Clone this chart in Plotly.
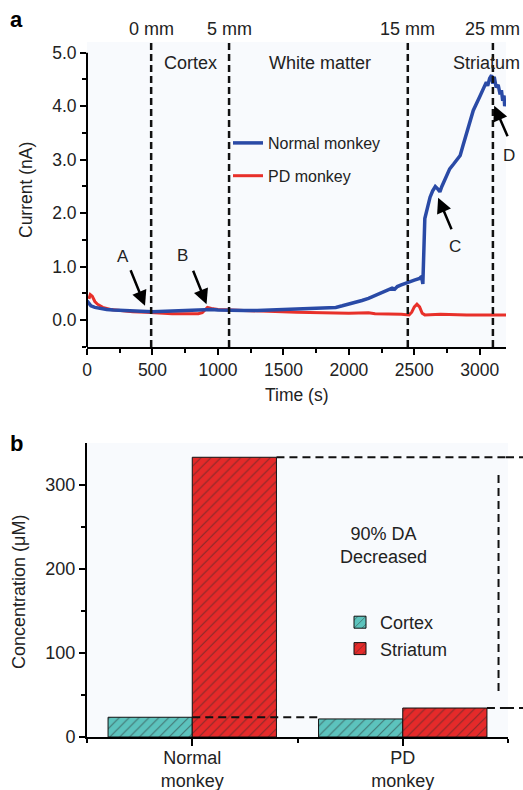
import plotly.graph_objects as go

# ---------------- data: panel a (current vs time) ----------------
t_normal = [0, 10, 30, 60, 100, 150, 200, 300, 400, 500, 600, 700, 800, 900, 950,
            1000, 1100, 1200, 1300, 1400, 1500, 1600, 1700, 1800, 1900, 1950, 2000,
            2050, 2100, 2150, 2200, 2250, 2300, 2330, 2350, 2370, 2400, 2450, 2500,
            2540, 2555, 2565, 2570, 2580, 2600, 2620, 2640, 2660, 2680, 2695, 2710,
            2740, 2770, 2800, 2850, 2870, 2900, 2950, 3000, 3020, 3050, 3060, 3075,
            3090, 3100, 3110, 3125, 3140, 3155, 3165, 3175, 3185, 3190, 3195]
i_normal = [0.36, 0.32, 0.27, 0.24, 0.22, 0.20, 0.19, 0.18, 0.17, 0.16, 0.17, 0.18,
            0.18, 0.19, 0.20, 0.19, 0.18, 0.18, 0.18, 0.19, 0.19, 0.20, 0.21, 0.22,
            0.24, 0.27, 0.30, 0.33, 0.37, 0.41, 0.46, 0.52, 0.56, 0.60, 0.58, 0.63,
            0.66, 0.71, 0.75, 0.78, 0.82, 0.68, 1.40, 1.90, 2.10, 2.30, 2.42, 2.50,
            2.45, 2.40, 2.50, 2.65, 2.83, 2.92, 3.08, 3.25, 3.50, 3.92, 4.18, 4.30,
            4.45, 4.38, 4.52, 4.58, 4.42, 4.55, 4.35, 4.40, 4.22, 4.30, 4.10, 4.20,
            4.00, 4.10]

t_pd = [15, 25, 40, 60, 80, 120, 180, 250, 350, 450, 550, 650, 750, 850, 880, 900,
        920, 950, 1000, 1100, 1200, 1400, 1600, 1800, 2000, 2150, 2200, 2400, 2460,
        2480, 2500, 2520, 2540, 2560, 2580, 2700, 2800, 2900, 3000, 3100, 3200]
i_pd = [0.40, 0.48, 0.45, 0.35, 0.30, 0.24, 0.20, 0.18, 0.16, 0.15, 0.13, 0.12,
        0.12, 0.12, 0.14, 0.20, 0.24, 0.22, 0.20, 0.19, 0.18, 0.17, 0.15, 0.14,
        0.13, 0.14, 0.12, 0.11, 0.10, 0.15, 0.25, 0.30, 0.25, 0.13, 0.10, 0.11,
        0.10, 0.10, 0.10, 0.10, 0.10]

depth_times = [490, 1085, 2450, 3100]
depth_labels = ["0 mm", "5 mm", "15 mm", "25 mm"]
region_labels = ["Cortex", "White matter", "Striatum"]
region_times = [790, 1780, 3050]

# ---------------- data: panel b (concentration) ----------------
groups = ["Normal<br>monkey", "PD<br>monkey"]
cortex_conc = [23.5, 21.5]
striatum_conc = [333, 34.5]

BLUE = "#2a4aa6"
RED = "#e8302a"
TEAL = "#5cc3bd"
BARRED = "#e52a2a"
TXT = "#222222"
FONT = "Liberation Sans, Arial, sans-serif"

W, H = 523, 790
def px(x):
    return x / W
def py(y):
    return 1 - y / H

fig = go.Figure()

fig.add_trace(go.Scatter(x=t_pd, y=i_pd, mode="lines", name="PD monkey",
                         line=dict(color=RED, width=3), legend="legend",
                         legendgroup="pd", legendrank=2, xaxis="x", yaxis="y"))
fig.add_trace(go.Scatter(x=t_normal, y=i_normal, mode="lines", name="Normal monkey",
                         line=dict(color=BLUE, width=3.5), legend="legend",
                         legendgroup="nm", legendrank=1, xaxis="x", yaxis="y"))

pat = dict(shape="/", fgcolor="#2a2a2a", size=7, solidity=0.17)
fig.add_trace(go.Bar(x=[0, 1], y=cortex_conc, name="Cortex", offsetgroup="c",
                     xaxis="x2", yaxis="y2", legend="legend2", legendgroup="c",
                     marker=dict(color=TEAL, line=dict(color="#111", width=1),
                                 pattern=pat)))
fig.add_trace(go.Bar(x=[0, 1], y=striatum_conc, name="Striatum", offsetgroup="s",
                     xaxis="x2", yaxis="y2", legend="legend2", legendgroup="s",
                     marker=dict(color=BARRED, line=dict(color="#111", width=1),
                                 pattern=pat)))

ax_common = dict(showgrid=False, zeroline=False, ticks="outside", tickwidth=2,
                 tickcolor="black", linecolor="black", linewidth=2, automargin=False,
                 tickfont=dict(size=17.5, color=TXT, family=FONT))

shapes = []
annotations = []

# dashed depth markers in panel a
for t in depth_times:
    shapes.append(dict(type="line", xref="x", yref="y", x0=t, x1=t, y0=-0.5, y1=5.2,
                       line=dict(color="#111", width=2.5, dash="7px,4px")))
for t, lab in zip(depth_times, depth_labels):
    annotations.append(dict(x=t, y=py(29), xref="x", yref="paper", text=lab,
                            xanchor="center", yanchor="middle",
                            showarrow=False, font=dict(size=18, color=TXT)))
for t, lab in zip(region_times, region_labels):
    annotations.append(dict(x=t, y=py(63), xref="x", yref="paper", text=lab,
                            xanchor="center", yanchor="middle",
                            showarrow=False, font=dict(size=18, color=TXT)))
# y axis line of panel a (stops at 5.0)
shapes.append(dict(type="line", xref="x domain", yref="y", x0=0, x1=0, y0=-0.5, y1=5.0,
                   line=dict(color="black", width=2)))

# arrows + letters (letter positions in paper pixels)
arrow_pts = [("A", 443, 0.27, -15, -37, 123, 257),
             ("B", 913, 0.30, -14, -35, 182, 256),
             ("C", 2682, 2.29, 14, 33, 455, 246),
             ("D", 3110, 4.01, 14, 32, 509, 156)]
for lab, x, y, axp, ayp, lx, ly in arrow_pts:
    annotations.append(dict(x=x, y=y, xref="x", yref="y", ax=axp, ay=ayp, text="",
                            showarrow=True, arrowhead=2, arrowsize=1.2, arrowwidth=2.5,
                            arrowcolor="black", standoff=0))
    annotations.append(dict(x=px(lx), y=py(ly), xref="paper", yref="paper", text=lab,
                            showarrow=False, xanchor="center", yanchor="middle",
                            font=dict(size=17, color=TXT)))

# panel b dashed guide lines
dash_b = dict(color="#111", width=2, dash="8px,5px")
shapes.append(dict(type="line", xref="x2", yref="y2", x0=0.4, x1=1.5, y0=333, y1=333, line=dash_b))
shapes.append(dict(type="line", xref="paper", yref="y2", x0=px(506), x1=1.0, y0=333, y1=333, line=dash_b))
shapes.append(dict(type="line", xref="x2", yref="y2", x0=1.455, x1=1.455, y0=312, y1=53, line=dash_b))
shapes.append(dict(type="line", xref="x2", yref="y2", x0=0.0, x1=0.6, y0=23.5, y1=23.5, line=dash_b))
shapes.append(dict(type="line", xref="x2", yref="y2", x0=1.4, x1=1.5, y0=34.5, y1=34.5, line=dash_b))
shapes.append(dict(type="line", xref="paper", yref="y2", x0=px(506), x1=1.0, y0=34.5, y1=34.5, line=dash_b))

annotations.append(dict(x=0.91, y=228, xref="x2", yref="y2",
                        text="90% DA<br>Decreased", showarrow=False,
                        xanchor="center", yanchor="middle",
                        font=dict(size=18, color=TXT)))

# axis titles and panel letters
annotations += [
    dict(x=px(26), y=py(190), xref="paper", yref="paper", text="Current (nA)",
         textangle=-90, showarrow=False, xanchor="center", yanchor="middle",
         font=dict(size=17.5, color=TXT)),
    dict(x=px(297), y=py(395), xref="paper", yref="paper", text="Time (s)",
         showarrow=False, xanchor="center", yanchor="middle",
         font=dict(size=17.5, color=TXT)),
    dict(x=px(19), y=py(592), xref="paper", yref="paper", text="Concentration (μM)",
         textangle=-90, showarrow=False, xanchor="center", yanchor="middle",
         font=dict(size=18, color=TXT)),
    dict(x=px(16), y=py(19), xref="paper", yref="paper", text="<b>a</b>",
         showarrow=False, xanchor="center", yanchor="middle",
         font=dict(size=22, color="black")),
    dict(x=px(16), y=py(443), xref="paper", yref="paper", text="<b>b</b>",
         showarrow=False, xanchor="center", yanchor="middle",
         font=dict(size=22, color="black")),
]

fig.update_layout(
    width=W, height=H,
    margin=dict(l=0, r=0, t=0, b=0),
    paper_bgcolor="white", plot_bgcolor="#f8fafd",
    font=dict(family=FONT, color=TXT),
    barmode="group", bargap=0.2, bargroupgap=0,
    xaxis=dict(ax_common, domain=[px(87), px(506)], anchor="y", range=[0, 3200],
               dtick=500, tick0=0, ticklen=6, showline=True,
               minor=dict(ticks="outside", dtick=250, tick0=0, ticklen=4,
                          tickwidth=1.5, tickcolor="black")),
    yaxis=dict(ax_common, domain=[py(347), py(42)], anchor="x", range=[-0.5, 5.2],
               dtick=1, tick0=0, tickformat=".1f", ticklen=6, showline=False,
               minor=dict(ticks="outside", dtick=0.5, tick0=0, ticklen=4,
                          tickwidth=1.5, tickcolor="black")),
    xaxis2=dict(ax_common, domain=[px(87), px(508)], anchor="y2", range=[-0.5, 1.5],
                tickmode="array", tickvals=[0, 1], ticktext=groups, ticklen=7,
                ticklabelstandoff=-4,
                showline=True, tickfont=dict(size=18, color=TXT, family=FONT),
                minor=dict(ticks="outside", tickmode="array", tickvals=[-0.5, 0.5, 1.5],
                           ticklen=4, tickwidth=1.5, tickcolor="black")),
    yaxis2=dict(ax_common, domain=[py(737), py(443)], anchor="x2", range=[0, 350],
                tickmode="array", tickvals=[0, 100, 200, 300], ticklen=6, showline=True,
                tickfont=dict(size=18, color=TXT, family=FONT),
                minor=dict(ticks="outside", tickmode="array", tickvals=[50, 150, 250],
                           ticklen=4, tickwidth=1.5, tickcolor="black")),
    legend=dict(x=px(228), y=py(126), xanchor="left", yanchor="top",
                bgcolor="rgba(0,0,0,0)", font=dict(size=16, color=TXT),
                tracegroupgap=9, itemwidth=30),
    legend2=dict(x=px(340), y=py(604), xanchor="left", yanchor="top",
                 bgcolor="rgba(0,0,0,0)", font=dict(size=18, color=TXT),
                 tracegroupgap=0),
    shapes=shapes,
    annotations=annotations,
    showlegend=True,
)

fig.write_html("out.html", config={"displayModeBar": False},
               post_script="document.body.style.margin='0';document.body.style.padding='0';")
